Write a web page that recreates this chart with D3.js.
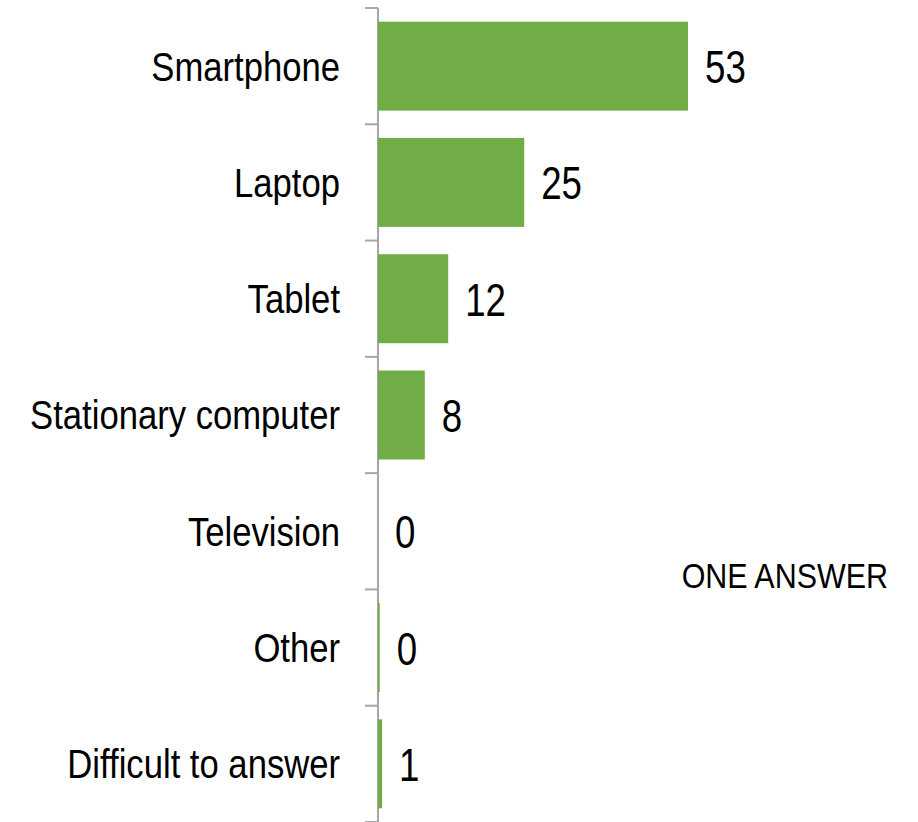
<!DOCTYPE html>
<html>
<head>
<meta charset="utf-8">
<script src="https://cdn.jsdelivr.net/npm/d3@7"></script>
<style>
  body { margin: 0; background: #fff; }
  text { font-family: "Liberation Sans Narrow", "Arial Narrow", "Liberation Sans", sans-serif; fill: #000; }
</style>
</head>
<body>
<svg id="chart" width="918" height="822"></svg>
<script>
// devices, share of answers (%)
var categories = ["Smartphone", "Laptop", "Tablet", "Stationary computer", "Television", "Other", "Difficult to answer"];
var values = [53, 25, 12, 8, 0, 0.3, 0.7];
var note = "ONE ANSWER";

var margin = {top: 8, left: 378};
var height = 814;

var svg = d3.select("#chart");

var y = d3.scaleBand()
  .domain(categories)
  .range([margin.top, margin.top + height])
  .paddingInner(0.235)
  .paddingOuter(0.1175);

var x = d3.scaleLinear()
  .domain([0, 53])
  .range([margin.left, margin.left + 310]);

var gap = y.step() * y.paddingInner() / 2;

// narrow look: squeeze the text horizontally
function squeeze(px, py, s) {
  return "translate(" + px + "," + py + ") scale(" + s + ",1)";
}

// axis line + ticks between the bands
var axis = svg.append("g");
axis.append("line")
  .attr("x1", x(0)).attr("x2", x(0))
  .attr("y1", margin.top).attr("y2", margin.top + height)
  .style("stroke", "#a6a6a6")
  .style("stroke-width", 2);

var bounds = categories.map(function(c) { return y(c) - gap; }).concat(margin.top + height);
axis.selectAll("line.tick")
  .data(bounds)
  .enter()
  .append("line")
  .attr("class", "tick")
  .attr("x1", x(0) - 13).attr("x2", x(0))
  .attr("y1", function(d) { return d; })
  .attr("y2", function(d) { return d; })
  .style("stroke", "#a6a6a6")
  .style("stroke-width", 2);

// bars (drawn over the axis line, like the original)
svg.selectAll("rect.bar")
  .data(values)
  .enter()
  .append("rect")
  .attr("class", "bar")
  .attr("x", x(0))
  .attr("y", function(d, i) { return y(categories[i]); })
  .attr("width", function(d) { return x(d) - x(0); })
  .attr("height", y.bandwidth())
  .style("fill", "#70ad47");

// category labels
svg.selectAll("text.cat")
  .data(categories)
  .enter()
  .append("text")
  .attr("class", "cat")
  .attr("transform", function(d) { return squeeze(x(0) - 38, y(d) + y.bandwidth() / 2, 0.845); })
  .attr("dy", "0.35em")
  .attr("text-anchor", "end")
  .style("font-size", "41px")
  .text(function(d) { return d; });

// value labels
svg.selectAll("text.val")
  .data(values)
  .enter()
  .append("text")
  .attr("class", "val")
  .attr("transform", function(d, i) { return squeeze(x(d) + 17, y(categories[i]) + y.bandwidth() / 2, 0.78); })
  .attr("dy", "0.36em")
  .style("font-size", "47px")
  .text(function(d) { return Math.round(d); });

svg.append("text")
  .attr("transform", squeeze(888, 588, 0.87))
  .attr("text-anchor", "end")
  .style("font-size", "35px")
  .text(note);
</script>
</body>
</html>
